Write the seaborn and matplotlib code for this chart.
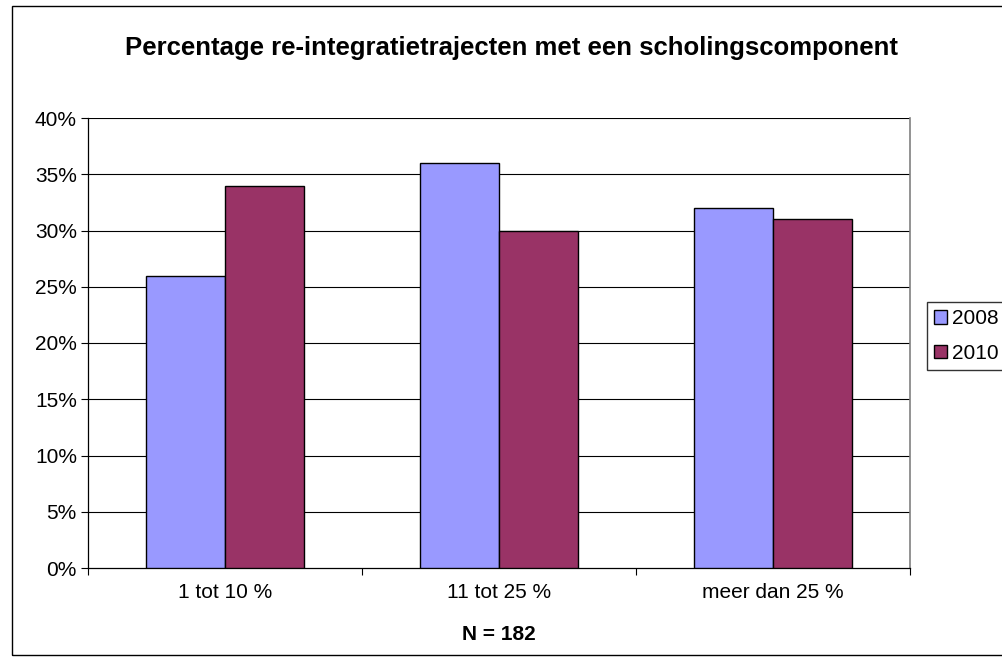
import matplotlib
matplotlib.use('Agg')
import matplotlib.pyplot as plt
import pandas as pd
import seaborn as sns
from matplotlib.patches import Rectangle
from matplotlib.ticker import FixedLocator, PercentFormatter

categorieen = ['1 tot 10 %', '11 tot 25 %', 'meer dan 25 %']
jaren = ['2008', '2010']
waarden_2008 = [26, 36, 32]
waarden_2010 = [34, 30, 31]
kleuren = {'2008': '#9999FF', '2010': '#993366'}

df = pd.DataFrame({
    'categorie': categorieen * 2,
    'jaar': [jaren[0]] * 3 + [jaren[1]] * 3,
    'percentage': waarden_2008 + waarden_2010,
})

sns.set_style('white')
plt.rcParams['font.family'] = ['Liberation Sans', 'DejaVu Sans']
plt.rcParams['text.color'] = 'black'
plt.rcParams['xtick.color'] = 'black'
plt.rcParams['ytick.color'] = 'black'
plt.rcParams['axes.labelcolor'] = 'black'

fig = plt.figure(figsize=(10.02, 6.64), dpi=100)
ax = fig.add_axes([88 / 1002, 96 / 664, 822 / 1002, 450 / 664])

sns.barplot(data=df, x='categorie', y='percentage', hue='jaar',
            palette=kleuren, width=0.575, edgecolor='black', linewidth=1,
            saturation=1, ax=ax, legend=True, zorder=3)

ax.set_ylim(0, 40)
ax.set_xlim(-0.5, 2.5)
ax.set_yticks(range(0, 41, 5))
ax.yaxis.set_major_formatter(PercentFormatter(decimals=0))
for y in range(5, 41, 5):
    ax.axhline(y, color='black', lw=0.8, zorder=1)

# tickstreepjes op de grenzen tussen categorieen
ax.xaxis.set_minor_locator(FixedLocator([-0.5, 0.5, 1.5, 2.5]))
ax.tick_params(axis='x', which='major', length=0, labelsize=15, pad=11)
ax.tick_params(axis='x', which='minor', length=5, width=0.8, color='black',
               direction='out', bottom=True)
ax.tick_params(axis='y', length=5, width=0.8, color='black', direction='out',
               left=True, labelsize=15, pad=3)

for kant in ['left', 'bottom']:
    ax.spines[kant].set_color('black')
    ax.spines[kant].set_linewidth(0.9)
ax.spines['top'].set_visible(False)
ax.spines['right'].set_color('#808080')
ax.spines['right'].set_linewidth(1.2)

ax.set_ylabel('')
ax.set_xlabel('N = 182', fontsize=15, fontweight='bold', labelpad=16)

handles, labels = ax.get_legend_handles_labels()
ax.legend(handles, labels, loc='upper left',
          bbox_to_anchor=(927 / 1002, 1 - 302 / 664),
          bbox_transform=fig.transFigure, frameon=True, fancybox=False,
          edgecolor='black', fontsize=15, handlelength=0.6, handleheight=0.6,
          handletextpad=0.25, borderpad=0.35, labelspacing=0.75, borderaxespad=0)

fig.text(511 / 1002, 1 - 48 / 664,
         'Percentage re-integratietrajecten met een scholingscomponent',
         ha='center', va='center', fontsize=18.5, fontweight='bold')

fig.patches.append(Rectangle((12 / 1002, 9 / 664), 1.2, 1 - 15 / 664,
                             transform=fig.transFigure, fill=False,
                             edgecolor='black', lw=1))

fig.savefig('out.png', dpi=100)
